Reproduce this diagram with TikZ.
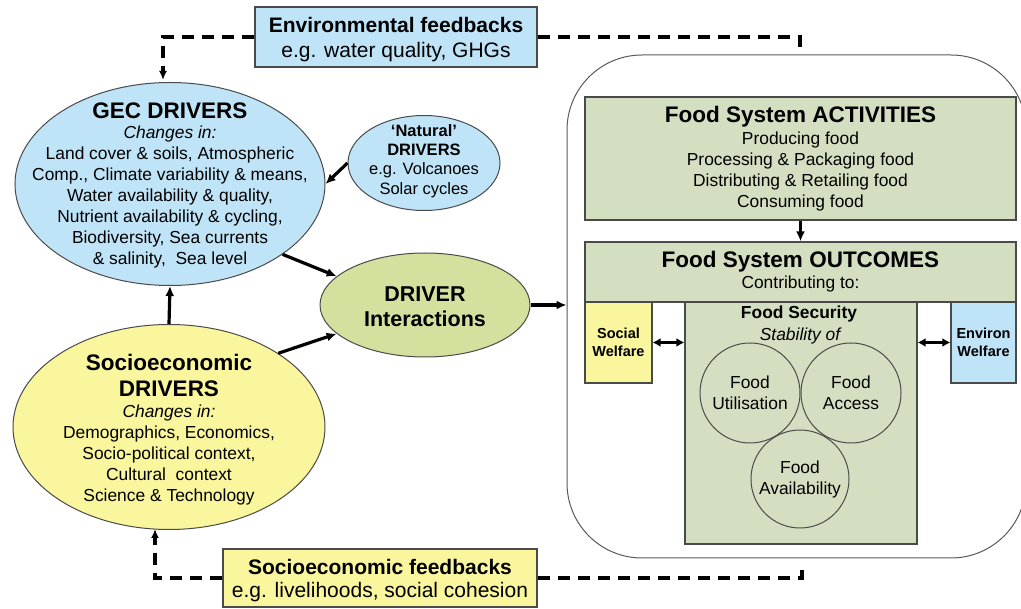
\documentclass[tikz,border=0pt]{standalone}
\usepackage{fontspec}
\setmainfont{Liberation Sans}
\usetikzlibrary{arrows.meta,shapes.geometric,calc}
\definecolor{envblue}{HTML}{BFE4F8}
\definecolor{socyellow}{HTML}{F9F69E}
\definecolor{drvgreen}{HTML}{D4E19E}
\definecolor{fsgreen}{HTML}{D4DFC1}
\definecolor{edgegray}{HTML}{4A4A4A}
\newcommand\myfs[2]{\fontsize{#1}{#2}\selectfont}
\tikzset{
  shp/.style={draw=edgegray, line width=1pt, inner sep=0pt},
  boxshape/.style={draw=edgegray, line width=1.2pt, inner sep=0pt, rectangle},
  txt/.style={inner sep=0pt, align=center, text=black},
  bodytxt/.style={txt, font=\myfs{17.4}{21}},
  titletxt/.style={txt, font=\bfseries\myfs{22.5}{26}},
  arr/.style={line width=3.2pt, -{Latex[length=10pt,width=9pt]}},
  dbl/.style={line width=3pt, {Latex[length=8pt,width=9pt]}-{Latex[length=8pt,width=9pt]}},
  fbline/.style={line width=3.4pt, dash pattern=on 12pt off 8pt},
  fbarrow/.style={fbline, -{Latex[length=9pt,width=8pt]}},
  ring/.style={draw=edgegray, line width=1pt, circle, inner sep=0pt, minimum size=100pt}
}
\begin{document}
\begin{tikzpicture}[x=1pt,y=-1pt]
\useasboundingbox (0,0) rectangle (1021,609);

% big food system frame
\node[draw=gray!70!black, line width=1pt, rounded corners=75pt, minimum width=459pt, minimum height=503pt, inner sep=0pt] (fsys) at (796.5,306.5) {};

% GEC drivers
\node[shp, ellipse, fill=envblue, minimum width=310pt, minimum height=203pt] (gec) at (170,184) {};
\node[titletxt] (gect) at (170,111) {GEC DRIVERS};
\node[bodytxt] (gecb) at (170,197) {\textit{Changes in:}\\Land cover \& soils, Atmospheric\\Comp., Climate variability \& means,\\Water availability \& quality,\\Nutrient availability \& cycling,\\Biodiversity, Sea currents\\\& salinity,\ \ Sea level};

% Natural drivers
\node[shp, ellipse, fill=envblue, minimum width=152pt, minimum height=95pt] (nat) at (424,163) {};
\node[txt, font=\myfs{16.5}{19.3}] (natt) at (424,161) {\textbf{‘Natural’}\\\textbf{DRIVERS}\\e.g. Volcanoes\\Solar cycles};

% Socioeconomic drivers
\node[shp, ellipse, fill=socyellow, minimum width=312pt, minimum height=205pt] (soc) at (169,427) {};
\node[titletxt] (soct) at (169,375) {Socioeconomic\\DRIVERS};
\node[bodytxt] (socb) at (169,455) {\textit{Changes in:}\\Demographics, Economics,\\Socio-political context,\\Cultural\ \ context\\Science \& Technology};

% Driver interactions
\node[shp, ellipse, fill=drvgreen, minimum width=210pt, minimum height=104pt] (drv) at (425,305) {};
\node[txt, font=\bfseries\myfs{21.5}{25}] (drvt) at (425,306.5) {DRIVER\\Interactions};

% Food system activities
\node[boxshape, fill=fsgreen, minimum width=431pt, minimum height=123pt] (act) at (800.5,158.5) {};
\node[titletxt] (actt) at (800.5,117) {Food System ACTIVITIES};
\node[bodytxt] (actb) at (800.5,171.5) {Producing food\\Processing \& Packaging food\\Distributing \& Retailing food\\Consuming food};

% Food system outcomes
\node[boxshape, fill=fsgreen, minimum width=431pt, minimum height=60pt] (out) at (800.5,272) {};
\node[titletxt] (outt) at (800.5,262) {Food System OUTCOMES};
\node[bodytxt] (outb) at (800.5,284) {Contributing to:};

% welfare boxes
\node[boxshape, fill=socyellow, minimum width=67pt, minimum height=81pt] (socw) at (618.5,342.5) {};
\node[txt, font=\bfseries\myfs{14.5}{17.5}] (socwt) at (618.5,342.5) {Social\\Welfare};
\node[boxshape, fill=envblue, minimum width=65pt, minimum height=81pt] (envw) at (983.5,342.5) {};
\node[txt, font=\bfseries\myfs{14.5}{17.5}] (envwt) at (983.5,342.5) {Environ\\Welfare};

% food security
\node[boxshape, fill=fsgreen, minimum width=232pt, minimum height=242pt] (fsec) at (801,423) {};
\node[txt, font=\bfseries\myfs{17.4}{21}] (fsect) at (799,314) {Food Security};
\node[txt, font=\itshape\myfs{17.4}{21}] (fsecs) at (800,336) {Stability of};
\node[ring] (util) at (750,393) {};
\node[ring] (acc) at (851,393) {};
\node[ring, minimum size=98pt] (avail) at (800,479) {};
\node[bodytxt] (utilt) at (750,393) {Food\\Utilisation};
\node[bodytxt] (acct) at (851,393) {Food\\Access};
\node[txt, font=\myfs{17.4}{20.5}] (availt) at (800,479.5) {Food\\Availability};

% feedback boxes
\node[boxshape, fill=envblue, minimum width=282pt, minimum height=60pt] (envfb) at (396,37) {};
\node[txt, font=\bfseries\myfs{21}{25}] (envfbt) at (396,25) {Environmental feedbacks};
\node[txt, font=\myfs{21}{25}] (envfbb) at (396,52) {e.g. water quality, GHGs};
\node[boxshape, fill=socyellow, minimum width=314pt, minimum height=58pt] (socfb) at (380,578) {};
\node[txt, font=\bfseries\myfs{21}{25}] (socfbt) at (380,567) {Socioeconomic feedbacks};
\node[txt, font=\myfs{21}{25}] (socfbb) at (380,592) {e.g. livelihoods, social cohesion};

% coordinates for feedback ends
\coordinate (envtip) at (163,80);
\coordinate (envend) at (800,47);
\coordinate (soctip) at (155,529);
\coordinate (socend) at (802,566);

% feedback lines
\draw[fbarrow] (envfb.west) -| (envtip);
\draw[fbline] (envfb.east) -| (envend);
\draw[fbarrow] (socfb.west) -| (soctip);
\draw[fbline] (socfb.east) -| (socend);

% solid arrows
\draw[arr] (nat.west) -- (gec.east);
\draw[arr] (gec.-32) -- (drv.162);
\draw[arr] (soc.34) -- (drv.198);
\draw[arr] (soc.north) -- (gec.south);
\draw[arr] (drv.east) -- (drv.east -| fsys.west);
\draw[arr] (act.south) -- (out.north);
\draw[dbl] (socw.east) -- (socw.east -| fsec.west);
\draw[dbl] (envw.west) -- (envw.west -| fsec.east);
\end{tikzpicture}
\end{document}
